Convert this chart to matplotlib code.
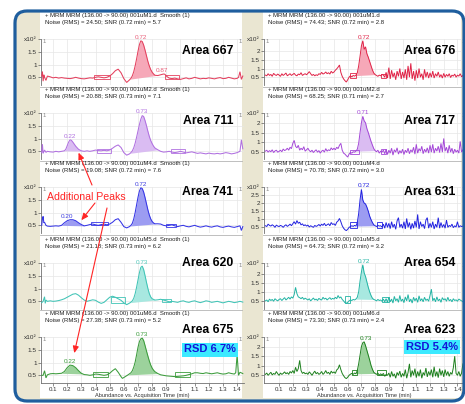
import numpy as np
import matplotlib
matplotlib.use('Agg')
import matplotlib.pyplot as plt
from matplotlib.patches import Rectangle, FancyBboxPatch

plt.rcParams['font.family'] = ['Liberation Sans', 'DejaVu Sans']

# ---------------- data ----------------
x_ticks = [0.1, 0.2, 0.3, 0.4, 0.5, 0.6, 0.7, 0.8, 0.9, 1.0, 1.1, 1.2, 1.3, 1.4]
x_tick_labels = ['0.1', '0.2', '0.3', '0.4', '0.5', '0.6', '0.7', '0.8', '0.9',
                 '1', '1.1', '1.2', '1.3', '1.4']

# left column: smoothed traces, (time, abundance x10^2)
l667 = [(0.020,0.55),(0.025,0.72),(0.030,0.35),(0.035,0.60),(0.040,0.50),(0.050,0.38),(0.060,0.55),
        (0.08,0.52),(0.10,0.48),(0.12,0.50),(0.14,0.47),(0.16,0.49),(0.18,0.47),(0.20,0.46),(0.22,0.45),
        (0.24,0.47),(0.26,0.50),(0.28,0.47),(0.30,0.45),(0.32,0.44),(0.34,0.46),(0.36,0.48),(0.38,0.47),
        (0.40,0.50),(0.42,0.52),(0.44,0.50),(0.46,0.48),(0.48,0.50),(0.50,0.55),(0.52,0.64),(0.54,0.76),
        (0.56,0.82),(0.58,0.68),(0.60,0.45),(0.62,0.30),(0.64,0.40),(0.65,0.46),(0.66,0.56),(0.67,0.72),
        (0.68,0.95),(0.69,1.22),(0.70,1.52),(0.71,1.78),(0.72,1.93),(0.73,1.90),(0.74,1.76),(0.75,1.56),
        (0.76,1.34),(0.77,1.12),(0.78,0.94),(0.79,0.80),(0.80,0.70),(0.81,0.63),(0.82,0.58),(0.84,0.57),
        (0.86,0.60),(0.88,0.63),(0.89,0.62),(0.90,0.55),(0.92,0.47),(0.94,0.45),(0.96,0.47),(0.98,0.44),
        (1.00,0.42),(1.02,0.45),(1.04,0.48),(1.06,0.44),(1.08,0.46),(1.10,0.50),(1.12,0.47),(1.14,0.44),
        (1.16,0.46),(1.18,0.45),(1.20,0.48),(1.22,0.46),(1.24,0.44),(1.26,0.47),(1.28,0.49),(1.30,0.45),
        (1.32,0.46),(1.34,0.50),(1.36,0.47),(1.38,0.44),(1.40,0.46),(1.41,0.50),(1.42,0.72),(1.43,0.42),
        (1.44,0.55)]
l711 = [(0.020,0.45),(0.025,0.78),(0.030,0.42),(0.040,0.55),(0.050,0.46),(0.060,0.50),(0.08,0.48),
        (0.10,0.47),(0.12,0.50),(0.14,0.48),(0.16,0.50),(0.18,0.52),(0.19,0.58),(0.20,0.72),(0.21,0.86),
        (0.22,0.95),(0.23,0.93),(0.24,0.86),(0.26,0.70),(0.28,0.58),(0.30,0.52),(0.32,0.50),(0.34,0.52),
        (0.36,0.50),(0.38,0.52),(0.40,0.55),(0.42,0.53),(0.44,0.52),(0.46,0.54),(0.48,0.52),(0.50,0.55),
        (0.52,0.62),(0.54,0.70),(0.56,0.75),(0.58,0.65),(0.60,0.45),(0.62,0.35),(0.64,0.40),(0.65,0.45),
        (0.66,0.52),(0.67,0.64),(0.68,0.82),(0.69,1.05),(0.70,1.30),(0.71,1.55),(0.72,1.76),(0.73,1.90),
        (0.74,1.86),(0.75,1.70),(0.76,1.50),(0.77,1.28),(0.78,1.08),(0.79,0.92),(0.80,0.80),(0.81,0.70),
        (0.82,0.63),(0.84,0.56),(0.86,0.50),(0.88,0.47),(0.90,0.48),(0.92,0.50),(0.94,0.47),(0.96,0.45),
        (0.98,0.47),(1.00,0.50),(1.02,0.47),(1.04,0.44),(1.06,0.46),(1.08,0.48),(1.10,0.45),(1.12,0.42),
        (1.14,0.44),(1.16,0.42),(1.18,0.40),(1.20,0.43),(1.22,0.41),(1.24,0.40),(1.26,0.42),(1.28,0.40),
        (1.30,0.42),(1.32,0.45),(1.34,0.43),(1.36,0.40),(1.38,0.42),(1.40,0.45),(1.42,0.50),(1.43,0.95),
        (1.44,0.60)]
l741 = [(0.020,0.50),(0.025,0.75),(0.030,0.85),(0.035,0.60),(0.040,0.62),(0.050,0.50),(0.060,0.47),
        (0.08,0.46),(0.10,0.47),(0.12,0.48),(0.14,0.47),(0.16,0.50),(0.18,0.60),(0.20,0.68),(0.22,0.72),
        (0.24,0.72),(0.26,0.68),(0.28,0.60),(0.30,0.53),(0.32,0.48),(0.34,0.50),(0.36,0.53),(0.38,0.55),
        (0.40,0.52),(0.42,0.50),(0.44,0.53),(0.46,0.55),(0.48,0.52),(0.50,0.55),(0.52,0.62),(0.54,0.72),
        (0.56,0.76),(0.58,0.62),(0.60,0.45),(0.62,0.40),(0.64,0.45),(0.65,0.50),(0.66,0.58),(0.67,0.75),
        (0.68,1.00),(0.69,1.30),(0.70,1.60),(0.71,1.84),(0.72,1.97),(0.73,1.94),(0.74,1.80),(0.75,1.58),
        (0.76,1.34),(0.77,1.10),(0.78,0.90),(0.79,0.75),(0.80,0.65),(0.81,0.59),(0.82,0.56),(0.84,0.56),
        (0.86,0.55),(0.88,0.50),(0.90,0.48),(0.92,0.50),(0.94,0.52),(0.96,0.48),(0.98,0.45),(1.00,0.48),
        (1.02,0.50),(1.04,0.46),(1.06,0.44),(1.08,0.47),(1.10,0.50),(1.12,0.46),(1.14,0.43),(1.16,0.45),
        (1.18,0.48),(1.20,0.45),(1.22,0.43),(1.24,0.46),(1.26,0.48),(1.28,0.44),(1.30,0.42),(1.32,0.45),
        (1.34,0.47),(1.36,0.44),(1.38,0.42),(1.40,0.45),(1.42,0.48),(1.43,0.30),(1.44,0.45)]
l620 = [(0.020,0.45),(0.030,0.50),(0.040,0.68),(0.045,0.42),(0.050,0.55),(0.060,0.50),(0.08,0.52),
        (0.10,0.50),(0.12,0.51),(0.14,0.53),(0.16,0.56),(0.18,0.60),(0.20,0.66),(0.22,0.72),(0.24,0.78),
        (0.26,0.80),(0.28,0.74),(0.30,0.64),(0.32,0.55),(0.34,0.50),(0.36,0.53),(0.38,0.56),(0.40,0.54),
        (0.42,0.47),(0.44,0.42),(0.46,0.46),(0.48,0.56),(0.50,0.66),(0.52,0.70),(0.54,0.66),(0.56,0.60),
        (0.58,0.54),(0.60,0.44),(0.62,0.37),(0.64,0.43),(0.65,0.47),(0.66,0.52),(0.67,0.62),(0.68,0.80),
        (0.69,1.05),(0.70,1.34),(0.71,1.62),(0.72,1.83),(0.73,1.88),(0.74,1.74),(0.75,1.50),(0.76,1.24),
        (0.77,1.00),(0.78,0.80),(0.79,0.67),(0.80,0.60),(0.82,0.55),(0.84,0.56),(0.86,0.58),(0.88,0.55),
        (0.90,0.52),(0.92,0.48),(0.94,0.50),(0.96,0.48),(0.98,0.46),(1.00,0.50),(1.02,0.52),(1.04,0.48),
        (1.06,0.46),(1.08,0.50),(1.10,0.52),(1.12,0.48),(1.14,0.45),(1.16,0.48),(1.18,0.52),(1.20,0.50),
        (1.22,0.46),(1.24,0.48),(1.26,0.50),(1.28,0.47),(1.30,0.44),(1.32,0.47),(1.34,0.50),(1.36,0.48),
        (1.38,0.45),(1.40,0.47),(1.42,0.50),(1.44,0.47)]
l675 = [(0.020,0.50),(0.030,0.50),(0.040,0.68),(0.045,0.55),(0.050,0.40),(0.060,0.52),(0.08,0.56),
        (0.10,0.57),(0.12,0.56),(0.14,0.57),(0.16,0.58),(0.18,0.65),(0.20,0.80),(0.22,0.90),(0.24,0.88),
        (0.26,0.80),(0.28,0.68),(0.30,0.58),(0.32,0.53),(0.34,0.52),(0.36,0.50),(0.38,0.52),(0.40,0.55),
        (0.42,0.54),(0.44,0.52),(0.46,0.50),(0.48,0.52),(0.50,0.58),(0.52,0.68),(0.54,0.76),(0.56,0.62),
        (0.58,0.45),(0.59,0.38),(0.61,0.45),(0.63,0.52),(0.65,0.60),(0.66,0.68),(0.67,0.82),(0.68,1.02),
        (0.69,1.30),(0.70,1.60),(0.71,1.82),(0.72,1.93),(0.73,1.96),(0.74,1.86),(0.75,1.66),(0.76,1.45),
        (0.77,1.25),(0.78,1.06),(0.79,0.90),(0.80,0.78),(0.81,0.70),(0.82,0.64),(0.84,0.57),(0.86,0.52),
        (0.88,0.50),(0.90,0.48),(0.92,0.47),(0.94,0.46),(0.96,0.45),(0.98,0.46),(1.00,0.47),(1.02,0.48),
        (1.04,0.50),(1.06,0.53),(1.08,0.56),(1.10,0.60),(1.12,0.60),(1.14,0.58),(1.16,0.57),(1.18,0.60),
        (1.20,0.58),(1.22,0.56),(1.24,0.58),(1.26,0.60),(1.28,0.57),(1.30,0.55),(1.32,0.56),(1.34,0.60),
        (1.36,0.57),(1.38,0.55),(1.39,0.60),(1.40,1.30),(1.41,0.50),(1.42,0.62),(1.44,0.57)]

# right column: unsmoothed traces sampled every 0.01 min from 0.00 to 1.44
r_t = np.round(np.arange(0.0, 1.445, 0.01), 2)
r676 = [0.62,0.58,0.70,0.60,0.66,0.55,0.72,0.64,0.60,0.68,
        0.62,0.55,0.70,0.60,0.66,0.74,0.58,0.64,0.70,0.60,
        0.66,0.72,0.62,0.58,0.68,0.64,0.76,0.60,0.66,0.70,
        0.64,0.72,0.82,0.70,0.60,0.66,0.58,0.64,0.60,0.70,
        0.66,0.78,0.68,0.72,0.80,0.70,0.76,0.68,0.84,0.74,
        0.80,0.90,0.98,1.08,1.20,0.78,0.55,0.40,0.30,0.22,
        0.35,0.50,0.58,0.52,0.60,0.56,0.62,0.75,1.15,1.70,
        2.30,2.60,2.10,2.25,1.85,1.65,1.40,1.15,0.92,0.74,
        0.65,0.60,0.55,0.62,0.58,0.66,0.62,0.50,0.78,0.45,
        1.05,0.40,0.90,0.50,0.75,0.35,0.85,0.55,1.00,0.40,
        0.80,0.45,0.95,0.35,1.15,0.50,1.30,0.40,0.85,0.30,
        0.90,0.45,1.00,0.50,0.70,0.35,0.95,0.50,0.80,0.45,
        0.75,0.50,0.85,0.45,0.70,0.55,0.80,0.50,0.65,0.45,
        0.72,0.50,0.66,0.55,0.70,0.48,0.62,0.56,0.68,0.50,
        0.62,0.56,0.70,0.52,0.60]
r717 = [0.55,0.60,0.50,0.58,0.52,0.62,0.48,0.56,0.60,0.50,
        0.54,0.60,0.52,0.66,0.58,0.62,0.70,0.60,0.75,0.68,
        0.95,1.10,0.80,0.72,0.85,0.60,0.70,0.62,0.78,0.55,
        0.62,0.70,0.58,0.52,0.60,0.48,0.56,0.62,0.50,0.58,
        0.45,0.55,0.60,0.50,0.68,0.55,0.62,0.58,0.72,0.62,
        0.70,0.62,0.75,0.68,0.85,0.95,0.60,0.45,0.40,0.32,
        0.25,0.40,0.48,0.45,0.52,0.50,0.55,0.65,0.95,1.50,
        2.00,2.33,2.10,2.00,1.70,1.50,1.28,1.05,0.86,0.68,
        0.58,0.52,0.60,0.45,0.55,0.50,0.60,0.42,0.65,0.38,
        0.60,0.45,0.70,0.35,0.62,0.50,0.72,0.40,0.58,0.45,
        0.65,0.38,0.60,0.48,0.70,0.42,0.62,0.50,0.75,0.40,
        0.90,0.45,0.68,0.55,0.80,0.42,0.65,0.50,0.72,0.45,
        0.85,0.50,0.90,0.45,0.70,0.55,0.80,0.48,0.95,0.50,
        1.20,0.55,0.75,0.45,0.85,0.50,0.70,0.42,0.65,0.50,
        0.60,0.45,1.05,0.50,0.62]
r631 = [0.60,0.55,0.70,0.62,0.58,0.66,0.60,0.50,0.64,0.58,
        0.55,0.62,0.58,0.50,0.60,0.66,0.56,0.62,0.70,0.60,
        0.72,0.85,0.70,0.92,0.75,0.82,0.65,0.72,0.60,0.66,
        0.58,0.64,0.52,0.60,0.55,0.50,0.62,0.56,0.60,0.68,
        0.58,0.70,0.62,0.75,0.60,0.66,0.72,0.60,0.80,0.68,
        0.72,0.62,0.82,0.90,1.05,0.85,0.60,0.45,0.35,0.30,
        0.38,0.50,0.55,0.60,0.56,0.62,0.58,0.80,1.35,2.20,
        2.85,2.20,2.00,1.95,1.75,1.50,1.20,0.98,0.80,0.66,
        0.60,0.55,0.62,0.58,0.60,0.52,0.70,0.45,0.80,0.50,
        0.75,0.42,0.85,0.50,0.70,0.38,0.90,1.10,0.50,0.70,
        0.45,0.85,0.40,1.05,0.50,0.80,0.38,0.75,0.45,0.90,
        0.50,1.30,0.40,0.85,0.55,0.70,0.42,0.95,1.10,0.45,
        0.75,0.50,0.85,0.40,0.70,0.50,1.10,0.45,0.80,0.50,
        0.68,0.45,0.95,0.50,0.62,0.55,0.70,0.48,0.60,0.52,
        0.85,0.50,0.60,0.55,0.58]
r654 = [0.50,0.55,0.45,0.60,0.52,0.58,0.48,0.62,0.55,0.50,
        0.58,0.62,0.52,0.60,0.68,0.55,0.62,0.70,0.60,0.72,
        0.65,0.85,1.25,0.90,0.72,0.68,0.62,0.70,0.58,0.65,
        0.60,0.55,0.62,0.50,0.58,0.66,0.55,0.60,0.52,0.64,
        0.58,0.55,0.70,0.60,0.65,0.55,0.62,0.68,0.58,0.64,
        0.60,0.70,0.62,0.80,0.66,0.72,0.58,0.50,0.40,0.37,
        0.42,0.50,0.55,0.52,0.58,0.55,0.60,0.70,1.00,1.60,
        2.10,2.50,2.05,1.85,1.55,1.25,1.00,0.80,0.65,0.58,
        0.55,0.50,0.58,0.52,0.55,0.48,0.60,0.45,0.62,0.42,
        0.70,0.45,0.60,0.38,0.75,0.50,0.62,0.42,0.80,0.48,
        0.60,0.40,0.72,0.50,0.85,0.45,0.60,0.38,0.70,0.50,
        0.65,0.42,0.78,0.50,0.62,0.45,0.70,0.52,0.60,0.48,
        0.80,1.15,0.50,0.65,0.45,0.72,0.50,0.60,0.42,0.68,
        0.55,0.62,0.48,0.70,0.50,0.58,0.45,0.62,0.52,0.56,
        0.48,0.60,0.55,0.50,0.45]
r623 = [0.55,0.62,0.50,0.58,0.66,0.52,0.60,0.55,0.70,0.58,
        0.50,0.62,0.55,0.60,0.68,0.58,0.64,0.55,0.70,0.62,
        0.75,0.60,0.92,0.70,0.85,1.28,0.75,0.60,0.66,0.58,
        0.62,0.55,0.68,0.60,0.50,0.62,0.72,0.58,0.65,0.55,
        0.60,0.70,0.55,0.62,0.75,0.60,0.66,0.55,0.72,0.62,
        0.68,0.60,0.78,0.85,1.05,0.80,0.60,0.48,0.38,0.33,
        0.40,0.50,0.56,0.60,0.55,0.62,0.58,0.75,1.10,1.55,
        2.00,2.20,2.25,2.05,1.80,1.55,1.30,1.02,0.82,0.66,
        0.60,0.55,0.62,0.50,0.58,0.52,0.60,0.45,0.55,0.50,
        0.62,0.40,0.70,0.45,0.58,0.35,0.65,0.50,0.72,0.40,
        0.60,0.45,0.80,0.35,0.65,1.10,0.40,0.75,0.50,0.85,
        0.38,0.70,0.45,0.80,0.35,0.65,0.50,0.88,0.42,0.70,
        0.50,0.80,0.40,0.95,0.45,0.70,0.38,0.85,0.50,0.75,
        0.42,0.80,0.50,0.70,0.45,0.65,0.55,0.90,1.50,0.60,
        0.50,0.70,0.45,0.62,1.10]

# integrated peak ranges (start, end)
l_fills = [[(0.645, 0.83)], [(0.18, 0.31), (0.645, 0.84)], [(0.16, 0.32), (0.645, 0.83)],
           [(0.645, 0.82)], [(0.16, 0.31), (0.63, 0.84)]]
r_fills = [[(0.655, 0.80)], [(0.66, 0.80)], [(0.66, 0.80)], [(0.66, 0.79)], [(0.66, 0.80)]]
# baseline marker boxes (t0, t1, y0, y1)
l_boxes = [[(0.39, 0.50, 0.42, 0.60), (0.89, 0.99, 0.42, 0.58)],
           [(0.41, 0.51, 0.45, 0.60), (0.93, 1.03, 0.45, 0.60)],
           [(0.37, 0.49, 0.50, 0.62), (0.90, 0.97, 0.45, 0.56)],
           [(0.51, 0.61, 0.42, 0.68), (0.87, 0.93, 0.48, 0.60)],
           [(0.38, 0.49, 0.44, 0.64), (0.96, 1.07, 0.44, 0.62)]]
r_boxes = [[(0.62, 0.66, 0.45, 0.72), (0.84, 0.88, 0.48, 0.70)],
           [(0.62, 0.68, 0.40, 0.62), (0.84, 0.88, 0.40, 0.65)],
           [(0.62, 0.67, 0.45, 0.85), (0.81, 0.85, 0.45, 0.85)],
           [(0.58, 0.62, 0.40, 0.75), (0.85, 0.90, 0.45, 0.70)],
           [(0.63, 0.67, 0.50, 0.80), (0.81, 0.88, 0.50, 0.80)]]
# peak retention time labels
l_peaks = [[0.72, 0.87], [0.22, 0.73], [0.20, 0.72], [0.73], [0.22, 0.73]]
r_peaks = [[0.72], [0.71], [0.72], [0.72], [0.73]]

l_headers = [("+ MRM MRM (136.00 -> 90.00) 001uM1.d  Smooth (1)", "Noise (RMS) = 24.50; SNR (0.72 min) = 5.7"),
             ("+ MRM MRM (136.00 -> 90.00) 001uM2.d  Smooth (1)", "Noise (RMS) = 20.88; SNR (0.73 min) = 7.1"),
             ("+ MRM MRM (136.00 -> 90.00) 001uM4.d  Smooth (1)", "Noise (RMS) = 19.08; SNR (0.72 min) = 7.6"),
             ("+ MRM MRM (136.00 -> 90.00) 001uM5.d  Smooth (1)", "Noise (RMS) = 21.18; SNR (0.73 min) = 6.2"),
             ("+ MRM MRM (136.00 -> 90.00) 001uM6.d  Smooth (1)", "Noise (RMS) = 27.38; SNR (0.73 min) = 5.2")]
r_headers = [("+ MRM MRM (136.00 -> 90.00) 001uM1.d", "Noise (RMS) = 74.43; SNR (0.72 min) = 2.8"),
             ("+ MRM MRM (136.00 -> 90.00) 001uM2.d", "Noise (RMS) = 68.25; SNR (0.71 min) = 2.7"),
             ("+ MRM MRM (136.00 -> 90.00) 001uM4.d", "Noise (RMS) = 70.78; SNR (0.72 min) = 3.0"),
             ("+ MRM MRM (136.00 -> 90.00) 001uM5.d", "Noise (RMS) = 64.73; SNR (0.72 min) = 3.2"),
             ("+ MRM MRM (136.00 -> 90.00) 001uM6.d", "Noise (RMS) = 73.30; SNR (0.73 min) = 2.4")]
l_areas = [667, 711, 741, 620, 675]
r_areas = [676, 717, 631, 654, 623]
rsd_left, rsd_right = "RSD 6.7%", "RSD 5.4%"

l_ymax = [2.0, 2.0, 2.0, 2.0, 2.0]
l_ymin = [0.2, 0.2, 0.2, 0.2, 0.2]
r_ymax = [2.7, 2.5, 3.0, 2.6, 2.5]
r_ymin = [0.05, 0.15, 0.15, 0.05, 0.1]
l_yticks = [0.5, 1.0, 1.5]
r_yticks = [[0.5, 1, 1.5, 2], [0.5, 1, 1.5, 2], [0.5, 1, 1.5, 2, 2.5], [0.5, 1, 1.5, 2], [0.5, 1, 1.5, 2]]

# ---------------- styles ----------------
line_l = ['#E4405E', '#B070E0', '#3535E6', '#40C4B6', '#3C9C3C']
line_r = ['#E02448', '#A448D8', '#2222E0', '#22B4A4', '#1E801E']
fill_c = ['#F6A8B8', '#DABCF2', '#9C9CF2', '#A8E8E0', '#9CD29C']
lab_l = ['#E8607A', '#B070E0', '#4040E0', '#50C8BA', '#3C9C3C']

W, H, DPI = 465, 404, 100
fig = plt.figure(figsize=(W / DPI, H / DPI), dpi=DPI)
fig.patch.set_facecolor('white')


def frect(x0, y0, x1, y1):
    return [x0 / W, 1 - y1 / H, (x1 - x0) / W, (y1 - y0) / H]


def fpt(x, y):
    return (x / W, 1 - y / H)


bg = fig.add_axes([0, 0, 1, 1], zorder=-10)
bg.set_xlim(0, W); bg.set_ylim(H, 0); bg.axis('off')
bg.add_patch(FancyBboxPatch((15, 11), 449, 390, boxstyle='round,pad=0,rounding_size=12',
                            fc='#EAE6D2', ec='none'))
bg.add_patch(Rectangle((40, 12), 202, 386, fc='white', ec='none'))
bg.add_patch(Rectangle((263, 12), 198, 386, fc='white', ec='none'))
for ys in [86.5, 160.5, 235, 309.5]:
    bg.plot([40, 242], [ys, ys], color='#B4B4B4', lw=0.6)
    bg.plot([263, 461], [ys, ys], color='#B4B4B4', lw=0.6)

tops = [39, 113, 187, 263, 337]
AXH = 46
cols = [(41, 243.5), (264, 465)]
axes = [[None, None] for _ in range(5)]

for r in range(5):
    for c in range(2):
        x0, x1 = cols[c]
        ax = fig.add_axes(frect(x0, tops[r], x1, tops[r] + AXH), zorder=1)
        ax.set_facecolor('none')
        axes[r][c] = ax
        if c == 0:
            pts = np.array(globals()['l%d' % l_areas[r]])
            t, v = pts[:, 0], pts[:, 1]
            col, lw = line_l[r], 0.75
            ymin, ymax = l_ymin[r], l_ymax[r]
            ticks = l_yticks + [ymax]
            tlabels = ['0.5', '1', '1.5', 'x10²']
            fills, boxes, peaks = l_fills[r], l_boxes[r], l_peaks[r]
            ax.set_xlim(0.015, 1.445)
            labc = lab_l[r]
        else:
            t = r_t
            v = np.array(globals()['r%d' % r_areas[r]])
            col, lw = line_r[r], 0.7
            ymin, ymax = r_ymin[r], r_ymax[r]
            ticks = r_yticks[r] + [ymax]
            tlabels = [('%g' % k) for k in r_yticks[r]] + ['x10²']
            fills, boxes, peaks = r_fills[r], r_boxes[r], r_peaks[r]
            ax.set_xlim(-0.01, 1.455)
            labc = line_r[r]
        ax.set_ylim(ymin, ymax)
        for (s, e) in fills:
            tt = np.concatenate([[s], t[(t > s) & (t < e)], [e]])
            vv = np.interp(tt, t, v)
            base = np.interp(tt, [s, e], [vv[0], vv[-1]])
            ax.fill_between(tt, base, vv, color=fill_c[r], lw=0, zorder=2)
        ax.plot(t, v, color=col, lw=lw, zorder=3, solid_joinstyle='miter')
        for (b0, b1, y0, y1) in boxes:
            ax.add_patch(Rectangle((b0, y0), b1 - b0, y1 - y0, fill=False, ec=col, lw=0.6, zorder=4))
        for pt in peaks:
            m = (t >= pt - 0.02) & (t <= pt + 0.02)
            pv = v[m].max()
            ax.annotate('%.2f' % pt, (pt, pv), xytext=(0, 0.8), textcoords='offset points',
                        ha='center', va='bottom', fontsize=4.6, color=labc, annotation_clip=False, zorder=5)
        ax.set_xticks(x_ticks)
        ax.set_yticks(ticks)
        ax.set_yticklabels(tlabels)
        ax.grid(True, color='#E6E6E6', lw=0.5)
        ax.set_axisbelow(True)
        for sp in ['top', 'right']:
            ax.spines[sp].set_visible(False)
        ax.spines['left'].set_color('#707070'); ax.spines['left'].set_linewidth(0.6)
        ax.tick_params(axis='y', length=2, width=0.5, color='#606060', labelsize=4.6,
                       labelcolor='#303030', pad=1)
        if r < 4:
            ax.spines['bottom'].set_visible(False)
            ax.tick_params(axis='x', length=0, labelbottom=False)
        else:
            ax.spines['bottom'].set_color('#707070'); ax.spines['bottom'].set_linewidth(0.6)
            ax.set_xticklabels(x_tick_labels)
            ax.tick_params(axis='x', length=2, width=0.5, color='#606060', labelsize=4.4,
                           labelcolor='#303030', pad=1)
            ax.set_xlabel('Abundance vs. Acquisition Time (min)', fontsize=4.1, color='#303030', labelpad=0.5)
        ax.text(0.008, 0.995, '1', transform=ax.transAxes, ha='left', va='top', fontsize=4.3, color='#888888')
        ax.text(0.975 if c == 0 else 0.985, 0.995, '1', transform=ax.transAxes, ha='left', va='top',
                fontsize=4.3, color='#888888', clip_on=False)

for r in range(5):
    for c, (hx, hdr) in enumerate([(45, l_headers[r]), (268, r_headers[r])]):
        fig.text(*fpt(hx, tops[r] - 23), hdr[0], fontsize=4.3, color='#202020', va='center', ha='left')
        fig.text(*fpt(hx, tops[r] - 16.5), hdr[1], fontsize=4.3, color='#202020', va='center', ha='left')

area_y = [51, 121, 192, 263, 330]
for r in range(5):
    fig.text(*fpt(233, area_y[r]), 'Area %d' % l_areas[r], fontsize=8.8, fontweight='bold',
             ha='right', va='center', color='black')
    fig.text(*fpt(455, area_y[r]), 'Area %d' % r_areas[r], fontsize=8.8, fontweight='bold',
             ha='right', va='center', color='black')

fig.text(*fpt(210, 349.5), rsd_left, fontsize=8, fontweight='bold', color='#1414D8', ha='center',
         va='center', bbox=dict(boxstyle='square,pad=0.18', fc='#3CEAFF', ec='none'))
fig.text(*fpt(431.5, 347), rsd_right, fontsize=8, fontweight='bold', color='#1414D8', ha='center',
         va='center', bbox=dict(boxstyle='square,pad=0.18', fc='#3CEAFF', ec='none'))

fig.text(*fpt(47, 197), 'Additional Peaks', fontsize=7.6, color='#FF2424', ha='left', va='center')

ov = fig.add_axes([0, 0, 1, 1], zorder=20)
ov.set_xlim(0, W); ov.set_ylim(H, 0); ov.axis('off')
ov.add_patch(FancyBboxPatch((15, 11), 449, 390, boxstyle='round,pad=0,rounding_size=12',
                            fc='none', ec='#1F5E9E', lw=2.3))
arrow_kw = dict(arrowstyle='-|>,head_length=0.5,head_width=0.22', color='#FF2424', lw=0.8,
                shrinkA=0, shrinkB=0, mutation_scale=8)
ov.annotate('', xy=(0.28, 0.45), xycoords=axes[1][0].transData, xytext=(92, 185),
            textcoords='data', arrowprops=arrow_kw, annotation_clip=False)
ov.annotate('', xy=(0.30, 0.70), xycoords=axes[2][0].transData, xytext=(95, 203),
            textcoords='data', arrowprops=arrow_kw, annotation_clip=False)
ov.annotate('', xy=(0.25, 1.37), xycoords=axes[4][0].transData, xytext=(107, 208),
            textcoords='data', arrowprops=arrow_kw, annotation_clip=False)

fig.savefig('out.png', dpi=DPI, facecolor='white')
